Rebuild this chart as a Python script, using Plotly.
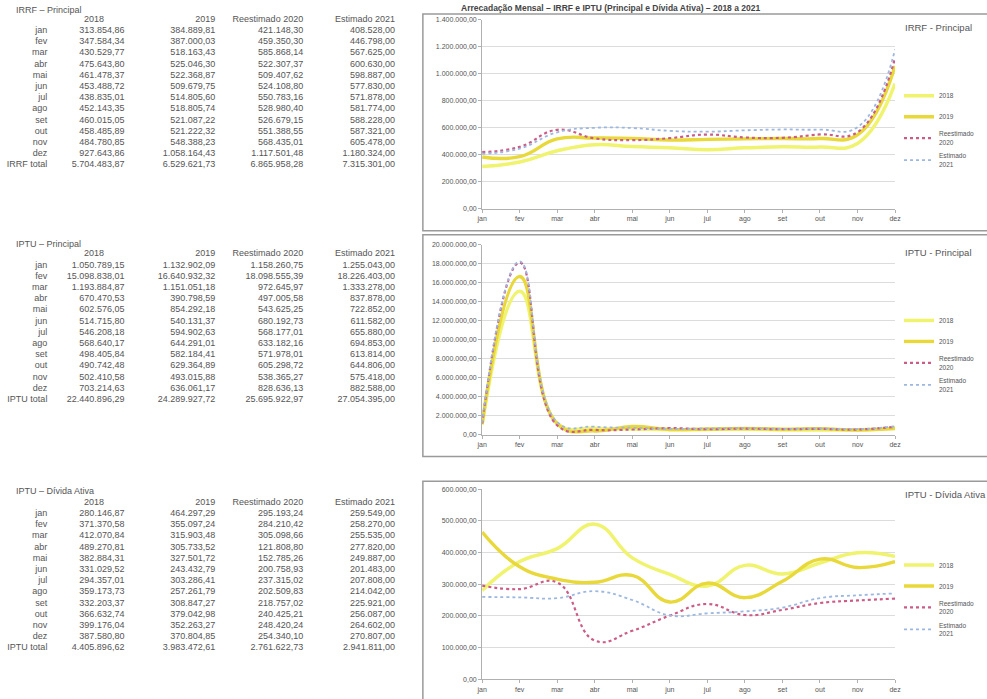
import plotly.graph_objects as go

W, H = 987, 699

months = ["jan", "fev", "mar", "abr", "mai", "jun", "jul", "ago", "set", "out", "nov", "dez"]
header_names = ["2018", "2019", "Reestimado 2020", "Estimado 2021"]
legend_names = ["2018", "2019", "Reestimado<br>2020", "Estimado<br>2021"]

# IRRF - Principal
irrf_2018 = [313854.86, 347584.34, 430529.77, 475643.80, 461478.37, 453488.72, 438835.01, 452143.35, 460015.05, 458485.89, 484780.85, 927643.86]
irrf_2019 = [384889.81, 387000.03, 518163.43, 525046.30, 522368.87, 509679.75, 514805.60, 518805.74, 521087.22, 521222.32, 548388.23, 1058164.43]
irrf_2020 = [421148.30, 459350.30, 585868.14, 522307.37, 509407.62, 524108.80, 550783.16, 528980.40, 526679.15, 551388.55, 568435.01, 1117501.48]
irrf_2021 = [408528.00, 446798.00, 567625.00, 600630.00, 598887.00, 577830.00, 571878.00, 581774.00, 588228.00, 587321.00, 605478.00, 1180324.00]

# IPTU - Principal
iptu_2018 = [1050789.15, 15098838.01, 1193884.87, 670470.53, 602576.05, 514715.80, 546208.18, 568640.17, 498405.84, 490742.48, 502410.58, 703214.63]
iptu_2019 = [1132902.09, 16640932.32, 1151051.18, 390798.59, 854292.18, 540131.37, 594902.63, 644291.01, 582184.41, 629364.89, 493015.88, 636061.17]
iptu_2020 = [1158260.75, 18098555.39, 972645.97, 497005.58, 543625.25, 680192.73, 568177.01, 633182.16, 571978.01, 605298.72, 538365.27, 828636.13]
iptu_2021 = [1255043.00, 18226403.00, 1333278.00, 837878.00, 722852.00, 611582.00, 655880.00, 694853.00, 613814.00, 644806.00, 575418.00, 882588.00]

# IPTU - Divida Ativa
da_2018 = [280146.87, 371370.58, 412070.84, 489270.81, 382884.31, 331029.52, 294357.01, 359173.73, 332203.37, 366632.74, 399176.04, 387580.80]
da_2019 = [464297.29, 355097.24, 315903.48, 305733.52, 327501.72, 243432.79, 303286.41, 257261.79, 308847.27, 379042.98, 352263.27, 370804.85]
da_2020 = [295193.24, 284210.42, 305098.66, 121808.80, 152785.26, 200758.93, 237315.02, 202509.83, 218757.02, 240425.21, 248420.24, 254340.10]
da_2021 = [259549.00, 258270.00, 255535.00, 277820.00, 249887.00, 201483.00, 207808.00, 214042.00, 225921.00, 256087.00, 264602.00, 270807.00]

irrf_ticks = [0, 200000, 400000, 600000, 800000, 1000000, 1200000, 1400000]
iptu_ticks = [0, 2000000, 4000000, 6000000, 8000000, 10000000, 12000000, 14000000, 16000000, 18000000, 20000000]
da_ticks = [0, 100000, 200000, 300000, 400000, 500000, 600000]

section_titles = ["IRRF – Principal", "IPTU – Principal", "IPTU – Dívida Ativa"]
chart_titles = ["IRRF - Principal", "IPTU - Principal", "IPTU - Dívida Ativa"]
total_labels = ["IRRF total", "IPTU total", "IPTU total"]
main_title = "Arrecadação Mensal – IRRF e IPTU (Principal e Dívida Ativa) – 2018 a 2021"

colors = ["#f0f36e", "#e8d83a", "#cc5c86", "#9db8e0"]
widths = [3.5, 3.4, 2.2, 1.8]
dashes = ["solid", "solid", "dot", "dot"]

FONT = "Liberation Sans, Arial, sans-serif"
TXT = "#555555"
NBSP = "\u00a0"


def px(x):
    return x / W


def py(y):
    return 1 - y / H


def br(v):
    s = f"{v:,.2f}"
    return s.replace(",", "X").replace(".", ",").replace("X", ".")


def nowrap(t):
    return t.replace(" ", NBSP)


datasets = [
    [irrf_2018, irrf_2019, irrf_2020, irrf_2021],
    [iptu_2018, iptu_2019, iptu_2020, iptu_2021],
    [da_2018, da_2019, da_2020, da_2021],
]
ticks = [irrf_ticks, iptu_ticks, da_ticks]

# layout geometry (pixels)
table_tops = [3, 240, 491]
section_title_y = [6, 242, 492]
ROW = 11.2
plot_y = [(16, 207), (243, 435), (490, 682)]
frames = [(10, 229), (233, 457), (482, 710)]
legend_tops = [78, 305, 552]
chart_title_y = [24, 251, 495]
PLOT_X = (482, 900)
COL_EDGES = [0, 50, 128, 220, 309, 402]

fig = go.Figure()

for i, data in enumerate(datasets):
    # table
    cols = [months + [nowrap(total_labels[i])]]
    for s in data:
        cols.append([br(v) for v in s] + [br(sum(s))])
    top = table_tops[i]
    bottom = top + ROW * 14 + 16
    fig.add_trace(go.Table(
        domain=dict(x=[0, px(COL_EDGES[-1])], y=[py(bottom), py(top)]),
        columnwidth=[COL_EDGES[j + 1] - COL_EDGES[j] for j in range(5)],
        header=dict(values=[""] + [nowrap(h) for h in header_names],
                    align=["right", "center", "right", "right", "right"],
                    height=ROW, font=dict(family=FONT, size=9, color=TXT),
                    fill_color="rgba(0,0,0,0)", line_color="rgba(0,0,0,0)"),
        cells=dict(values=cols, align="right", height=ROW,
                   font=dict(family=FONT, size=9, color=TXT),
                   fill_color="rgba(0,0,0,0)", line_color="rgba(0,0,0,0)"),
    ))

    # chart traces
    ax = "" if i == 0 else str(i + 1)
    leg = "legend" if i == 0 else f"legend{i + 1}"
    for k, s in enumerate(data):
        fig.add_trace(go.Scatter(
            x=months, y=s, mode="lines", name=legend_names[k],
            line=dict(color=colors[k], width=widths[k], dash=dashes[k], shape="spline", smoothing=1.3),
            xaxis="x" + ax, yaxis="y" + ax, legend=leg, legendgroup=f"g{i}_{k}",
        ))

    y0, y1 = plot_y[i]
    fig.update_layout(**{
        "xaxis" + ax: dict(domain=[px(PLOT_X[0]), px(PLOT_X[1])], anchor="y" + ax,
                           type="category", range=[0, 11], showgrid=False,
                           showline=True, linecolor="#b0b0b0", ticks="outside", ticklen=3,
                           tickcolor="#b0b0b0", tickfont=dict(family=FONT, size=7, color=TXT)),
        "yaxis" + ax: dict(domain=[py(y1), py(y0)], anchor="x" + ax,
                           range=[0, ticks[i][-1]], tickvals=ticks[i], ticktext=[br(t) for t in ticks[i]],
                           showgrid=True, gridcolor="#dcdcdc", gridwidth=1, zeroline=False,
                           showline=True, linecolor="#b0b0b0", ticks="outside", ticklen=3,
                           tickcolor="#b0b0b0", tickfont=dict(family=FONT, size=7, color=TXT)),
        leg: dict(x=px(904), xanchor="left", y=py(legend_tops[i]), yanchor="top",
                  font=dict(family=FONT, size=6.5, color=TXT), bgcolor="rgba(0,0,0,0)",
                  tracegroupgap=2, itemwidth=30),
    })

    # frame around chart
    f0, f1 = frames[i]
    fig.add_shape(type="rect", xref="paper", yref="paper", x0=px(422), x1=px(1000),
                  y0=py(f1), y1=py(f0), line=dict(color="#9a9a9a", width=1.5), layer="below")

    fig.add_annotation(xref="paper", yref="paper", x=px(8), y=py(section_title_y[i]),
                       text=section_titles[i], showarrow=False, xanchor="left", yanchor="middle",
                       font=dict(family=FONT, size=9, color=TXT))
    fig.add_annotation(xref="paper", yref="paper", x=px(908), y=py(chart_title_y[i]),
                       text=chart_titles[i], showarrow=False, xanchor="left", yanchor="middle",
                       font=dict(family=FONT, size=9.5, color=TXT))

fig.add_annotation(xref="paper", yref="paper", x=px(612), y=py(4.5), text="<b>" + main_title + "</b>",
                   showarrow=False, xanchor="center", yanchor="middle",
                   font=dict(family=FONT, size=8.5, color="#444444"))

fig.update_layout(width=W, height=H, margin=dict(l=0, r=0, t=0, b=0),
                  paper_bgcolor="white", plot_bgcolor="white", showlegend=True,
                  font=dict(family=FONT, color=TXT))

fig.write_html("out.html", config={"displayModeBar": False},
               post_script="document.body.style.margin='0px';")
